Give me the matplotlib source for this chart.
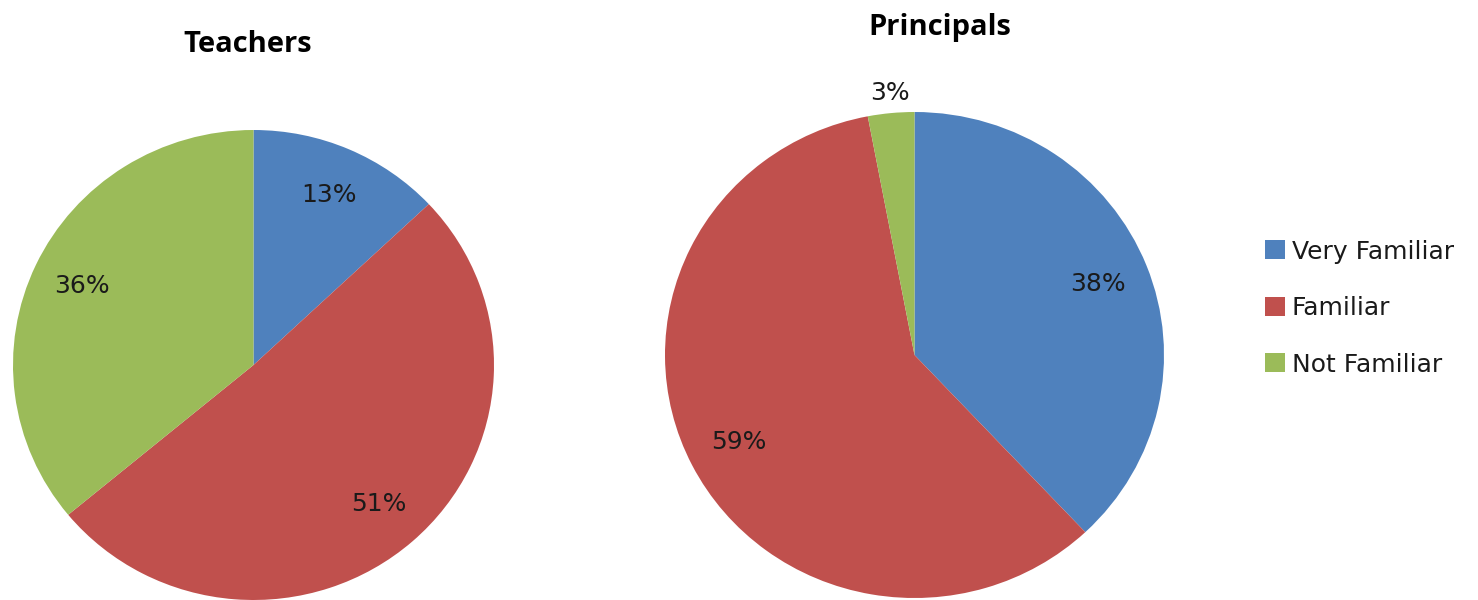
import matplotlib.pyplot as plt

# survey data
categories = ['Very Familiar', 'Familiar', 'Not Familiar']
teachers = [13, 51, 36]
principals = [38, 59, 3]
colors = ['#4F81BD', '#C0504D', '#9BBB59']

plt.rcParams['font.family'] = ['DejaVu Sans']

W, H = 1478, 600
fig = plt.figure(figsize=(W / 100, H / 100), dpi=100)


def px_axes(x0, y0, x1, y1):
    # axes from pixel box (top-left origin)
    return fig.add_axes([x0 / W, 1 - y1 / H, (x1 - x0) / W, (y1 - y0) / H])


def pct(p):
    return '%d%%' % round(p)


# Teachers pie
ax1 = px_axes(13, 130, 494, 600)
wedges, texts, autotexts = ax1.pie(teachers, colors=colors, startangle=90, counterclock=False,
                                   autopct=pct, pctdistance=0.79,
                                   textprops={'fontsize': 18, 'color': '#1a1a1a'})
ax1.set_aspect('auto')
ax1.set_xlim(-1, 1)
ax1.set_ylim(-1, 1)
fig.text(248 / W, 1 - 45 / H, 'Teachers', ha='center', va='center',
         fontsize=21, fontweight='bold', family=['Open Sans', 'DejaVu Sans'])

# Principals pie
ax2 = px_axes(665, 112, 1164, 598)
wedges2, texts2, autotexts2 = ax2.pie(principals, colors=colors, startangle=90, counterclock=False,
                                      autopct=pct, pctdistance=0.79,
                                      textprops={'fontsize': 18, 'color': '#1a1a1a'})
# small slice label sits outside
autotexts2[2].set_position((-0.1, 1.08))
ax2.set_aspect('auto')
ax2.set_xlim(-1, 1)
ax2.set_ylim(-1, 1)
fig.text(940 / W, 1 - 28 / H, 'Principals', ha='center', va='center',
         fontsize=21, fontweight='bold', family=['Open Sans', 'DejaVu Sans'])

fig.legend(wedges, categories, loc='center left', bbox_to_anchor=(1252 / W, 1 - 308 / H),
           frameon=False, fontsize=18, handlelength=0.8, handleheight=0.8,
           handletextpad=0.3, labelspacing=1.3, borderpad=0, labelcolor='#1a1a1a')

fig.savefig('out.png', dpi=100)
